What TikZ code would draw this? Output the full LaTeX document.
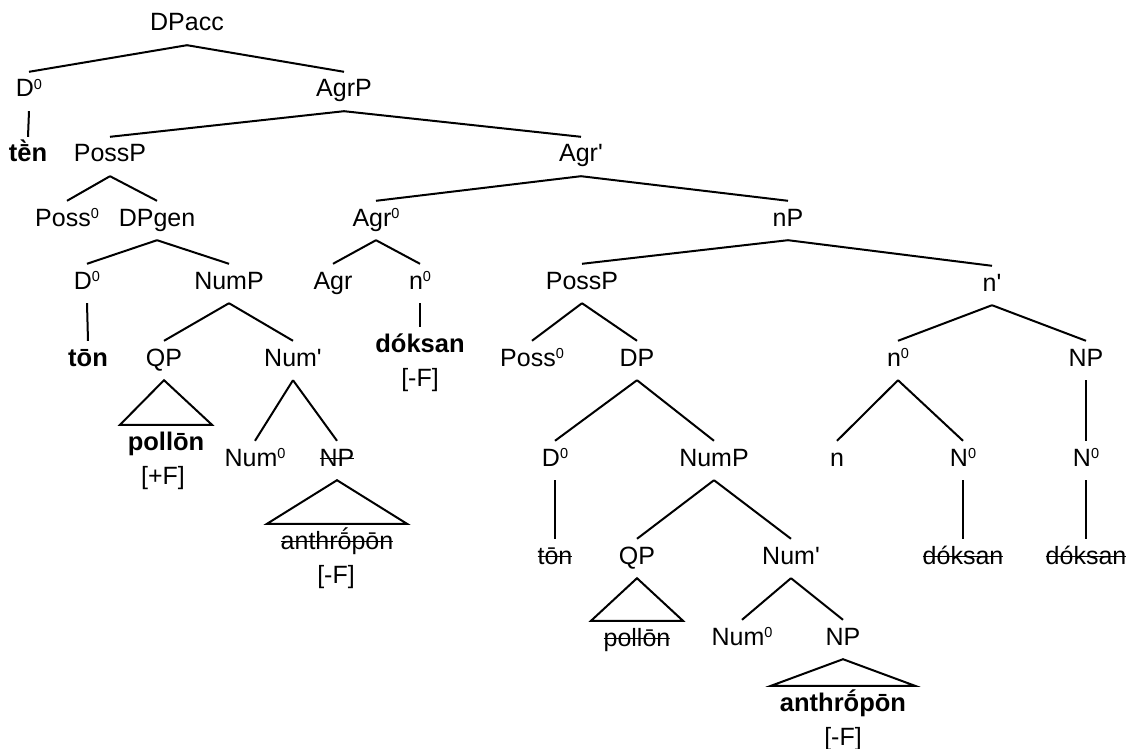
\documentclass[tikz,border=0pt]{standalone}
\usepackage{fontspec}
\setmainfont{Liberation Sans}
\usetikzlibrary{calc}
\newcommand\zr{\raisebox{7.5pt}{\fontsize{14.5}{15}\selectfont 0}}
\newcommand\prm{\textquotesingle}
\newsavebox\strbox
\newcommand\strk[1]{\sbox\strbox{#1}\rlap{\rule[0.27em]{\wd\strbox}{1.6pt}}\usebox\strbox}
\tikzset{
  lbl/.style={anchor=base,inner xsep=2pt,inner ysep=0pt,text height=25pt,text depth=14pt,
    font=\fontsize{25}{34}\selectfont},
  lex/.style={lbl,font=\fontsize{25.5}{34}\selectfont\bfseries},
  branch/.style={line width=2pt,line join=miter},
}
\begin{document}
\begin{tikzpicture}[x=1pt,y=-1pt]
  \useasboundingbox (0,0) rectangle (1130,749);
  % labels: name/style/x/baseline/text
  \foreach \nm/\st/\x/\y/\txt in {
    dpacc/lbl/187/31/DPacc, dA/lbl/29/97/D\zr, agrp/lbl/344/97/AgrP,
    ten/lex/28/162/tḕn, possA/lbl/110/162/PossP, agrbar/lbl/581/162/Agr\prm,
    possoA/lbl/67/226/Poss\zr, dpgen/lbl/157/226/DPgen, agrz/lbl/376/226/Agr\zr, nlP/lbl/788/226/nP,
    dB/lbl/87/289/D\zr, numpA/lbl/229/289/NumP, agr/lbl/333/289/Agr, nzA/lbl/420/289/n\zr,
    possB/lbl/582/289/PossP, nbar/lbl/992/291/n\prm,
    tonA/lex/88/366/tōn, qpA/lbl/164/366/QP, numbarA/lbl/293/366/Num\prm,
    doksA/lex/420/352/dóksan, featC/lbl/420/386/[-F],
    possoB/lbl/532/366/Poss\zr, dp/lbl/637/366/DP, nzB/lbl/898/366/n\zr, npB/lbl/1086/366/NP,
    polA/lex/166/450/pollōn, featA/lbl/163/484/[+F],
    numzA/lbl/255/466/Num\zr, npA/lbl/337/466/\strk{NP},
    anthA/lbl/337/549/\strk{anthrṓpōn}, featB/lbl/336/583/[-F],
    dC/lbl/555/466/D\zr, numpB/lbl/714/466/NumP, nn/lbl/837/466/n,
    NzeroA/lbl/963/466/N\zr, NzeroB/lbl/1086/466/N\zr,
    tonB/lbl/555/564/\strk{tōn}, qpB/lbl/637/564/QP, numbarB/lbl/791/564/Num\prm,
    doksB/lbl/963/564/\strk{dóksan}, doksC/lbl/1086/564/\strk{dóksan},
    polB/lbl/637/646/\strk{pollōn}, numzB/lbl/742/645/Num\zr, npC/lbl/843/645/NP,
    anthB/lex/843/711/anthrṓpōn, featD/lbl/843/745/[-F]}
    \node[\st] (\nm) at (\x,\y) {\txt};
  % branches
  \foreach \a/\b in {dpacc/dA, dpacc/agrp, dA/ten, agrp/possA, agrp/agrbar,
    possA/possoA, possA/dpgen, agrbar/agrz, agrbar/nlP, dpgen/dB, dpgen/numpA,
    agrz/agr, agrz/nzA, nlP/possB, nlP/nbar, dB/tonA, numpA/qpA, numpA/numbarA,
    nzA/doksA, possB/possoB, possB/dp, nbar/nzB, nbar/npB, numbarA/numzA, numbarA/npA,
    dp/dC, dp/numpB, nzB/nn, nzB/NzeroA, npB/NzeroB, dC/tonB, numpB/qpB, numpB/numbarB,
    NzeroA/doksB, NzeroB/doksC, numbarB/numzB, numbarB/npC}
    \draw[branch] (\a.south) -- (\b.north);
  % triangles
  \foreach \a/\b/\w in {qpA/polA/46, npA/anthA/70, qpB/polB/46, npC/anthB/72}
    \draw[branch] (\a.south) -- ($(\b.north)+(-\w,0)$) -- ($(\b.north)+(\w,0)$) -- cycle;
\end{tikzpicture}
\end{document}
